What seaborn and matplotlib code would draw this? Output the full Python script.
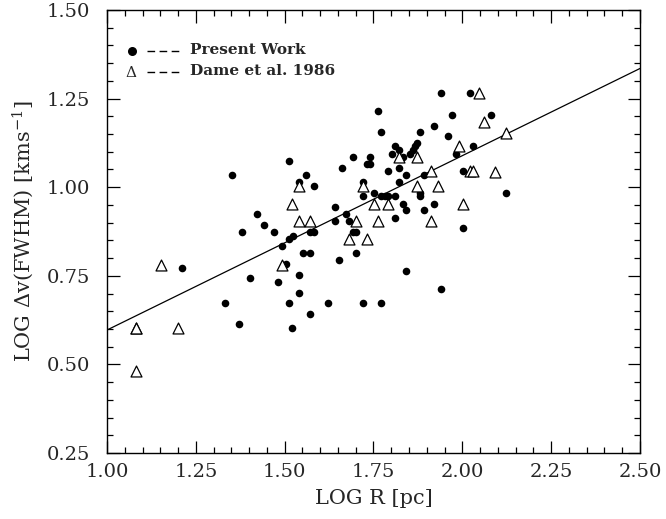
import numpy as np
import pandas as pd
import matplotlib
matplotlib.use("Agg")
import matplotlib.pyplot as plt
import seaborn as sns
from matplotlib.ticker import MultipleLocator

# ---- data: Present Work (filled circles) ----
pw_logR = [1.511, 1.352, 1.540, 1.421, 1.441, 1.381, 1.471, 1.523, 1.511, 1.492,
           1.503, 1.540, 1.403, 1.482, 1.211, 1.540, 1.332, 1.511, 1.372, 1.522,
           1.941, 2.022, 1.762, 1.972, 1.921, 1.771, 1.882, 1.961, 1.872, 1.867,
           1.862, 1.852, 1.811, 1.822, 1.801, 1.832, 1.691, 1.741, 1.732, 1.741,
           2.031, 1.981, 1.662, 1.822, 1.792, 2.001, 1.891, 1.561, 1.842, 1.721,
           1.822, 1.582, 1.751, 1.882, 1.882, 1.721, 1.771, 1.781, 1.792, 1.811,
           1.832, 1.921, 1.842, 1.891, 1.642, 1.672, 1.811, 1.642, 1.681, 2.001,
           1.691, 1.701, 1.571, 1.582, 1.552, 1.571, 1.701, 1.652, 1.842, 2.082,
           2.122, 1.941, 1.621, 1.721, 1.771, 1.571]
pw_logdv = [1.074, 1.034, 1.014, 0.923, 0.893, 0.874, 0.874, 0.863, 0.853, 0.834,
            0.783, 0.753, 0.743, 0.732, 0.773, 0.702, 0.673, 0.673, 0.613, 0.603,
            1.265, 1.265, 1.215, 1.205, 1.174, 1.155, 1.155, 1.145, 1.125, 1.115,
            1.105, 1.095, 1.115, 1.105, 1.095, 1.085, 1.085, 1.085, 1.065, 1.065,
            1.115, 1.095, 1.053, 1.053, 1.045, 1.045, 1.034, 1.034, 1.034, 1.015,
            1.015, 1.004, 0.985, 0.985, 0.974, 0.974, 0.974, 0.974, 0.974, 0.974,
            0.954, 0.954, 0.935, 0.935, 0.944, 0.924, 0.914, 0.905, 0.905, 0.885,
            0.875, 0.875, 0.875, 0.875, 0.814, 0.814, 0.814, 0.794, 0.764, 1.205,
            0.984, 0.713, 0.672, 0.672, 0.672, 0.642]

# ---- data: Dame et al. 1986 (open triangles) ----
dame_logR = [1.540, 1.522, 1.540, 1.151, 1.492, 1.081, 1.081, 1.201, 1.081, 2.047,
             1.991, 1.822, 1.872, 1.911, 2.021, 2.031, 1.721, 1.872, 1.931, 1.751,
             1.792, 2.001, 1.571, 1.701, 1.762, 1.911, 1.681, 1.731, 2.062, 2.122,
             2.092]
dame_logdv = [1.002, 0.954, 0.905, 0.781, 0.781, 0.602, 0.602, 0.602, 0.482, 1.265,
              1.115, 1.085, 1.085, 1.045, 1.045, 1.045, 1.004, 1.004, 1.004, 0.954,
              0.954, 0.954, 0.905, 0.905, 0.905, 0.905, 0.854, 0.854, 1.183, 1.153,
              1.042]

# ---- fitted relation ----
fit_intercept = 0.105
fit_slope = 0.492

x_ticks = [1.00, 1.25, 1.50, 1.75, 2.00, 2.25, 2.50]
y_ticks = [0.25, 0.50, 0.75, 1.00, 1.25, 1.50]
legend_labels = ["Present Work", "Dame et al. 1986"]

df = pd.concat([
    pd.DataFrame({"logR": pw_logR, "logdv": pw_logdv, "src": legend_labels[0]}),
    pd.DataFrame({"logR": dame_logR, "logdv": dame_logdv, "src": legend_labels[1]}),
], ignore_index=True)

sns.set_theme(style="ticks")
plt.rcParams["font.family"] = ["DejaVu Serif", "DejaVu Sans"]
plt.rcParams["mathtext.fontset"] = "dejavuserif"

fig = plt.figure(figsize=(6.66, 5.19), dpi=100)
ax = fig.add_axes([107 / 666, 1 - 453 / 519, 533 / 666, 443 / 519])

sns.scatterplot(data=df[df.src == legend_labels[0]], x="logR", y="logdv", ax=ax,
                marker="o", s=30, color="black", edgecolor="black", linewidth=0,
                legend=False, zorder=3)
sns.scatterplot(data=df[df.src == legend_labels[1]], x="logR", y="logdv", ax=ax,
                marker="^", s=62, facecolor="white", edgecolor="black", linewidth=0.9,
                legend=False, zorder=4)

xl = np.array([x_ticks[0], x_ticks[-1]])
sns.lineplot(x=xl, y=fit_intercept + fit_slope * xl, ax=ax, color="black", lw=0.9,
             zorder=2)

ax.set_xlim(x_ticks[0], x_ticks[-1])
ax.set_ylim(y_ticks[0], y_ticks[-1])
ax.set_xticks(x_ticks)
ax.set_yticks(y_ticks)
ax.set_xticklabels([f"{v:.2f}" for v in x_ticks])
ax.set_yticklabels([f"{v:.2f}" for v in y_ticks])
ax.xaxis.set_minor_locator(MultipleLocator(0.05))
ax.yaxis.set_minor_locator(MultipleLocator(0.05))
ax.tick_params(which="both", direction="in", top=True, right=True, width=0.9,
               color="black")
ax.tick_params(which="major", length=9, labelsize=14)
ax.tick_params(axis="x", which="major", pad=7)
ax.tick_params(axis="y", which="major", pad=12)
ax.tick_params(which="minor", length=4.5)
for s in ax.spines.values():
    s.set_linewidth(1.0)
    s.set_color("black")

ax.set_xlabel("LOG R [pc]", fontsize=15, labelpad=6)
ax.set_ylabel("LOG $\\Delta$v(FWHM) [kms$^{\\mathregular{-1}}$]", fontsize=15,
              labelpad=8)

# legend drawn as in the original figure
ax.scatter([0.046], [0.907], transform=ax.transAxes, marker="o", s=30,
           color="black", clip_on=False, zorder=5)
ax.text(0.046, 0.860, "$\\Delta$", transform=ax.transAxes, ha="center", va="center",
        fontsize=11)
for yy in (0.907, 0.860):
    ax.plot([0.075, 0.138], [yy, yy], transform=ax.transAxes, color="black",
            lw=1.0, dashes=(5.5, 3.2))
ax.text(0.156, 0.909, legend_labels[0], transform=ax.transAxes, ha="left",
        va="center", fontsize=11, fontweight="bold")
ax.text(0.156, 0.862, legend_labels[1], transform=ax.transAxes, ha="left",
        va="center", fontsize=11, fontweight="bold")

fig.savefig("out.png", dpi=100)
